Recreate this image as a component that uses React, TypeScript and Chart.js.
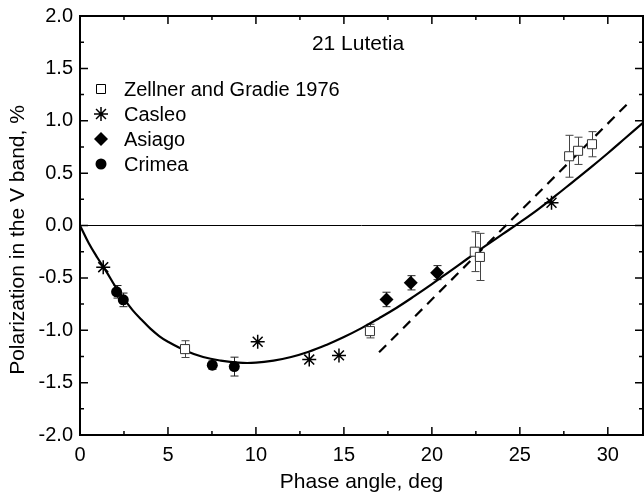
import React, { useEffect, useRef } from 'react';
import { Chart, registerables } from 'chart.js';

Chart.register(...registerables);

const FONT = '"Liberation Sans", Arial, Helvetica, sans-serif';

// Zellner and Gradie 1976 (open squares)
const zellnerX = [5.97, 16.48, 22.44, 22.73, 27.8, 28.31, 29.1];
const zellnerY = [-1.18, -1.008, -0.25, -0.3, 0.661, 0.713, 0.776];
const zellnerErr = [0.08, 0.065, 0.19, 0.225, 0.2, 0.13, 0.12];

// Casleo (asterisks)
const casleoX = [1.32, 10.1, 13.03, 14.72, 26.8];
const casleoY = [-0.398, -1.11, -1.28, -1.24, 0.217];

// Asiago (filled diamonds)
const asiagoX = [17.42, 18.8, 20.3];
const asiagoY = [-0.706, -0.547, -0.45];
const asiagoErr = [0.069, 0.068, 0.067];

// Crimea (filled circles)
const crimeaX = [2.08, 2.46, 7.52, 8.77];
const crimeaY = [-0.633, -0.71, -1.333, -1.347];
const crimeaErr = [0.06, 0.065, 0.04, 0.09];

// Fitted phase curve (solid)
const fitX = [0, 0.5, 1, 1.5, 2, 2.5, 3, 3.5, 4, 4.5, 5, 6, 7, 8, 9, 10, 11, 12, 13, 14, 15, 16, 17, 18, 19, 20, 21, 22, 23, 24, 25, 26, 27, 28, 29, 30, 31, 32];
const fitY = [0, -0.17, -0.31, -0.44, -0.58, -0.7, -0.81, -0.9, -0.985, -1.055, -1.11, -1.195, -1.255, -1.29, -1.31, -1.31, -1.29, -1.255, -1.205, -1.14, -1.065, -0.98, -0.885, -0.785, -0.675, -0.56, -0.44, -0.32, -0.2, -0.085, 0.03, 0.15, 0.28, 0.415, 0.55, 0.69, 0.835, 0.98];

// Linear fit near inversion (dashed)
const dashX = [17.0, 31.35];
const dashY = [-1.21, 1.2];

// Zero reference line
const zeroX = [0, 32];
const zeroY = [0, 0];

const xMajorTicks = [0, 5, 10, 15, 20, 25, 30];
const xMinorTicks = [2.5, 7.5, 12.5, 17.5, 22.5, 27.5];
const yMajorTicks = [-2, -1.5, -1, -0.5, 0, 0.5, 1, 1.5, 2];
const yMinorTicks = [-1.75, -1.25, -0.75, -0.25, 0.25, 0.75, 1.25, 1.75];

const legendLabels = ['Zellner and Gradie 1976', 'Casleo', 'Asiago', 'Crimea'];
const legendStyles = ['square', 'star', 'diamond', 'circle'];
const plotTitle = '21 Lutetia';
const xTitle = 'Phase angle, deg';
const yTitle = 'Polarization in the V band, %';

const pts = (xs: number[], ys: number[]) => xs.map((x, i) => ({ x, y: ys[i] }));

function drawMarker(ctx: CanvasRenderingContext2D, style: string, x: number, y: number) {
  ctx.save();
  ctx.strokeStyle = '#000';
  ctx.fillStyle = '#000';
  ctx.beginPath();
  if (style === 'square') {
    ctx.lineWidth = 1;
    ctx.fillStyle = '#fff';
    ctx.rect(x - 4.5, y - 4.5, 9, 9);
    ctx.fill();
    ctx.stroke();
  } else if (style === 'star') {
    ctx.lineWidth = 1.5;
    const r = 7;
    for (let k = 0; k < 4; k++) {
      const a = (k * Math.PI) / 4;
      ctx.moveTo(x - r * Math.cos(a), y - r * Math.sin(a));
      ctx.lineTo(x + r * Math.cos(a), y + r * Math.sin(a));
    }
    ctx.stroke();
  } else if (style === 'diamond') {
    const r = 7;
    ctx.moveTo(x, y - r);
    ctx.lineTo(x + r, y);
    ctx.lineTo(x, y + r);
    ctx.lineTo(x - r, y);
    ctx.closePath();
    ctx.fill();
  } else {
    ctx.arc(x, y, 5.5, 0, Math.PI * 2);
    ctx.fill();
  }
  ctx.restore();
}

const errorSets = [
  { xs: zellnerX, ys: zellnerY, es: zellnerErr, color: '#444' },
  { xs: asiagoX, ys: asiagoY, es: asiagoErr, color: '#222' },
  { xs: crimeaX, ys: crimeaY, es: crimeaErr, color: '#222' },
];

const decorPlugin = {
  id: 'decor',
  afterLayout(chart: any) {
    // stretch the plot area to the right edge of the canvas (1px margin)
    const x = chart.scales.x;
    const R = chart.width - 1;
    if (x && x.right !== R) {
      x.right = R;
      x.width = R - x.left;
      x.configure();
      chart.chartArea.right = R;
      chart.chartArea.width = R - chart.chartArea.left;
    }
  },
  beforeDatasetsDraw(chart: any) {
    const { ctx, scales } = chart;
    const xs = scales.x;
    const ys = scales.y;
    ctx.save();
    ctx.lineWidth = 1;
    for (const s of errorSets) {
      ctx.strokeStyle = s.color;
      s.xs.forEach((xv: number, i: number) => {
        const px = Math.round(xs.getPixelForValue(xv)) + 0.5;
        const top = ys.getPixelForValue(s.ys[i] + s.es[i]);
        const bot = ys.getPixelForValue(s.ys[i] - s.es[i]);
        ctx.beginPath();
        ctx.moveTo(px, top);
        ctx.lineTo(px, bot);
        ctx.moveTo(px - 4, top);
        ctx.lineTo(px + 4, top);
        ctx.moveTo(px - 4, bot);
        ctx.lineTo(px + 4, bot);
        ctx.stroke();
      });
    }
    ctx.restore();
  },
  afterDraw(chart: any) {
    const { ctx, chartArea: a, scales } = chart;
    const xs = scales.x;
    const ys = scales.y;
    ctx.save();
    ctx.strokeStyle = '#000';
    ctx.lineWidth = 2;
    ctx.strokeRect(a.left, a.top, a.right - a.left, a.bottom - a.top);
    ctx.lineWidth = 1.5;
    ctx.beginPath();
    const tickX = (v: number, len: number) => {
      const p = xs.getPixelForValue(v);
      ctx.moveTo(p, a.bottom);
      ctx.lineTo(p, a.bottom - len);
      ctx.moveTo(p, a.top);
      ctx.lineTo(p, a.top + len);
    };
    const tickY = (v: number, len: number) => {
      const p = ys.getPixelForValue(v);
      ctx.moveTo(a.left, p);
      ctx.lineTo(a.left + len, p);
      ctx.moveTo(a.right, p);
      ctx.lineTo(a.right - len, p);
    };
    xMajorTicks.forEach((v) => tickX(v, 8));
    xMinorTicks.forEach((v) => tickX(v, 4));
    yMajorTicks.forEach((v) => tickY(v, 8));
    yMinorTicks.forEach((v) => tickY(v, 4));
    ctx.stroke();

    // titles
    ctx.fillStyle = '#000';
    ctx.textAlign = 'center';
    ctx.textBaseline = 'middle';
    ctx.font = `21px ${FONT}`;
    ctx.fillText(plotTitle, 358, a.top + 28);
    ctx.fillText(xTitle, (a.left + a.right) / 2, 482);
    ctx.save();
    ctx.translate(18, 240);
    ctx.rotate(-Math.PI / 2);
    ctx.fillText(yTitle, 0, 0);
    ctx.restore();

    // legend
    ctx.font = `20px ${FONT}`;
    ctx.textAlign = 'left';
    legendLabels.forEach((lab, i) => {
      const y = a.top + 73 + i * 25;
      drawMarker(ctx, legendStyles[i], a.left + 21, y);
      ctx.fillStyle = '#000';
      ctx.fillText(lab, a.left + 44, y + 1);
    });
    ctx.restore();
  },
};

export default function App() {
  const ref = useRef<HTMLCanvasElement | null>(null);
  useEffect(() => {
    document.body.style.margin = '0';
    const canvas = ref.current;
    if (!canvas) return;
    const chart = new Chart(canvas, {
      type: 'scatter',
      data: {
        datasets: [
          {
            label: legendLabels[0],
            data: pts(zellnerX, zellnerY),
            pointStyle: 'rect',
            pointRadius: 6.4,
            backgroundColor: '#fff',
            borderColor: '#333',
            borderWidth: 1,
          },
          {
            label: legendLabels[1],
            data: pts(casleoX, casleoY),
            pointStyle: 'star',
            pointRadius: 7,
            backgroundColor: '#000',
            borderColor: '#000',
            borderWidth: 1.5,
          },
          {
            label: legendLabels[2],
            data: pts(asiagoX, asiagoY),
            pointStyle: 'rectRot',
            pointRadius: 7,
            backgroundColor: '#000',
            borderColor: '#000',
            borderWidth: 0,
          },
          {
            label: legendLabels[3],
            data: pts(crimeaX, crimeaY),
            pointStyle: 'circle',
            pointRadius: 5.5,
            backgroundColor: '#000',
            borderColor: '#000',
            borderWidth: 0,
          },
          {
            label: 'fit',
            type: 'line',
            data: pts(fitX, fitY),
            showLine: true,
            borderColor: '#000',
            borderWidth: 2.2,
            pointRadius: 0,
            tension: 0.4,
            fill: false,
          },
          {
            label: 'linear',
            type: 'line',
            data: pts(dashX, dashY),
            showLine: true,
            borderColor: '#000',
            borderWidth: 2.2,
            borderDash: [10, 7],
            pointRadius: 0,
            fill: false,
          },
          {
            label: 'zero',
            type: 'line',
            data: pts(zeroX, zeroY),
            showLine: true,
            borderColor: '#000',
            borderWidth: 1,
            pointRadius: 0,
            fill: false,
          },
        ],
      } as any,
      options: {
        animation: false,
        responsive: false,
        maintainAspectRatio: false,
        layout: { padding: { left: 0, right: 1, top: 16, bottom: 0 } },
        plugins: { legend: { display: false }, tooltip: { enabled: false }, title: { display: false } },
        scales: {
          x: {
            type: 'linear',
            min: 0,
            max: 32,
            border: { display: false },
            grid: { display: false, drawTicks: false },
            ticks: {
              stepSize: 5,
              includeBounds: false,
              padding: 8,
              color: '#000',
              font: { family: FONT, size: 20 },
              callback: (v: any) => String(v),
            },
            afterFit: (s: any) => {
              s.height = 64;
              s.paddingLeft = 0;
              s.paddingRight = 0;
            },
          },
          y: {
            type: 'linear',
            min: -2,
            max: 2,
            border: { display: false },
            grid: { display: false, drawTicks: false },
            ticks: {
              stepSize: 0.5,
              padding: 7,
              color: '#000',
              font: { family: FONT, size: 20 },
              callback: (v: any) => Number(v).toFixed(1),
            },
            afterFit: (s: any) => {
              s.width = 80;
              s.paddingTop = 0;
              s.paddingBottom = 0;
            },
          },
        },
      } as any,
      plugins: [decorPlugin],
    });
    return () => chart.destroy();
  }, []);
  return (
    <div style={{ width: 644, height: 499 }}>
      <canvas ref={ref} width={644} height={499} style={{ display: 'block' }} />
    </div>
  );
}
